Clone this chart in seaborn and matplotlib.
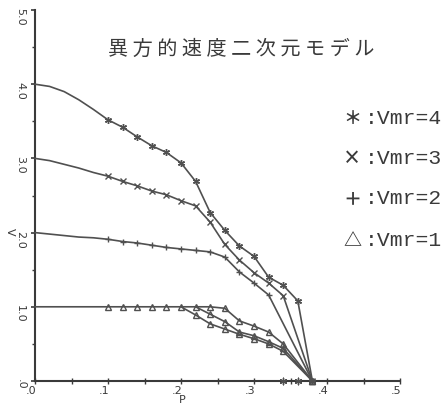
import matplotlib
matplotlib.use("Agg")
import matplotlib.pyplot as plt
import matplotlib.transforms as mtransforms
import pandas as pd
import seaborn as sns

# ---- data: V against P for each curve ----
P4 = [0.00, 0.02, 0.04, 0.06, 0.08, 0.10, 0.12, 0.14, 0.16, 0.18, 0.20,
      0.22, 0.24, 0.26, 0.28, 0.30, 0.32, 0.34, 0.36, 0.38]
V4 = [4.00, 3.97, 3.90, 3.79, 3.66, 3.52, 3.42, 3.29, 3.17, 3.08, 2.94,
      2.69, 2.27, 2.03, 1.82, 1.68, 1.40, 1.29, 1.08, 0.00]

P3 = [0.00, 0.02, 0.04, 0.06, 0.08, 0.10, 0.12, 0.14, 0.16, 0.18, 0.20,
      0.22, 0.24, 0.26, 0.28, 0.30, 0.32, 0.34, 0.38]
V3 = [3.00, 2.97, 2.92, 2.87, 2.81, 2.76, 2.69, 2.63, 2.56, 2.51, 2.43,
      2.36, 2.14, 1.84, 1.63, 1.46, 1.32, 1.15, 0.00]

P2 = [0.00, 0.02, 0.04, 0.06, 0.08, 0.10, 0.12, 0.14, 0.16, 0.18, 0.20,
      0.22, 0.24, 0.26, 0.28, 0.30, 0.32, 0.38]
V2 = [2.00, 1.98, 1.96, 1.94, 1.93, 1.91, 1.88, 1.86, 1.83, 1.80, 1.78,
      1.76, 1.74, 1.67, 1.47, 1.32, 1.16, 0.00]

P1 = [0.00, 0.02, 0.04, 0.06, 0.08, 0.10, 0.12, 0.14, 0.16, 0.18, 0.20,
      0.22, 0.24, 0.26, 0.28, 0.30, 0.32, 0.34, 0.38]
V1 = [1.00, 1.00, 1.00, 1.00, 1.00, 1.00, 1.00, 1.00, 1.00, 1.00, 1.00,
      1.00, 1.00, 0.98, 0.81, 0.74, 0.66, 0.50, 0.00]

# lower branches leaving the V = 1 line
P1b = [0.22, 0.24, 0.26, 0.28, 0.30, 0.32, 0.34, 0.38]
V1b = [1.00, 0.90, 0.80, 0.66, 0.61, 0.53, 0.44, 0.00]

P1c = [0.20, 0.22, 0.24, 0.26, 0.28, 0.30, 0.32, 0.34, 0.38]
V1c = [1.00, 0.89, 0.77, 0.70, 0.63, 0.57, 0.50, 0.40, 0.00]

# points lying on the P axis
P0 = [0.34, 0.36]
V0 = [0.00, 0.00]

x_ticks = [0.0, 0.1, 0.2, 0.3, 0.4, 0.5]
x_tick_labels = [".0", ".1", ".2", ".3", ".4", ".5"]
y_ticks = [0, 1, 2, 3, 4, 5]
y_tick_labels = [".0", "1.0", "2.0", "3.0", "4.0", "5.0"]

title = "異 方 的 速 度 二 次 元 モ デ ル"
legend_symbols = ["＊", "×", "＋", "△"]
legend_labels = [":Vmr=4", ":Vmr=3", ":Vmr=2", ":Vmr=1"]

# ---- styling ----
W, H = 446, 406
INK = "#3a3a3a"
LINE = "#505050"

sns.set_style("ticks")
plt.rcParams["font.family"] = ["DejaVu Sans"]

fig = plt.figure(figsize=(W / 100, H / 100), dpi=100)
fig.patch.set_facecolor("white")


def fx(px):
    return px / W


def fy(py):
    return 1 - py / H


ax = fig.add_axes([fx(35), fy(382), (400 - 35) / W, (382 - 11) / H])
ax.set_facecolor("white")
ax.set_xlim(0, 0.5)
ax.set_ylim(0, 5)


def draw_curve(P, V, marker, first_marked, mfc=LINE, ms=4.5):
    df = pd.DataFrame({"P": P, "V": V})
    mask = [i >= first_marked for i in range(len(P))]
    sns.lineplot(data=df, x="P", y="V", ax=ax, estimator=None, sort=False,
                 color=LINE, lw=1.2, marker=marker, markevery=mask, ms=ms,
                 mec=LINE, mfc=mfc, mew=1.0, clip_on=False, zorder=3)


ASTER = (6, 2, 0)
draw_curve(P4, V4, ASTER, 5, ms=5)
draw_curve(P3, V3, "x", 5, ms=4)
draw_curve(P2, V2, "+", 5, ms=4.5)
draw_curve(P1, V1, "^", 5, mfc="none", ms=4)
draw_curve(P1b, V1b, "^", 1, mfc="none", ms=4)
draw_curve(P1c, V1c, "^", 1, mfc="none", ms=4)
sns.scatterplot(x=P0, y=V0, ax=ax, marker=ASTER, s=22, color=LINE,
                linewidth=1.0, clip_on=False, zorder=4)

# ---- axes ----
for side in ("top", "right"):
    ax.spines[side].set_visible(False)
for side in ("left", "bottom"):
    ax.spines[side].set_color(INK)
    ax.spines[side].set_linewidth(1.5)

ax.set_xticks(x_ticks)
ax.set_xticklabels(x_tick_labels)
ax.set_xticks([0.05, 0.15, 0.25, 0.35, 0.45], minor=True)
ax.set_yticks(y_ticks)
ax.set_yticklabels(y_tick_labels)
ax.set_yticks([0.5, 1.5, 2.5, 3.5, 4.5], minor=True)

ax.tick_params(axis="x", which="both", direction="inout", length=4,
               width=1.0, color=INK, labelsize=8, labelcolor=INK, pad=1)
ax.tick_params(axis="y", which="major", direction="out", length=3,
               width=1.2, color=INK, labelsize=8, labelcolor=INK, pad=4)
ax.tick_params(axis="y", which="minor", direction="out", length=2,
               width=1.0, color=INK)

x_shift = mtransforms.ScaledTranslation(-4 / 100, 0, fig.dpi_scale_trans)
for lab in ax.get_xticklabels():
    lab.set_transform(lab.get_transform() + x_shift)
y_shift = mtransforms.ScaledTranslation(0, 3 / 100, fig.dpi_scale_trans)
for lab in ax.get_yticklabels():
    lab.set_rotation(270)
    lab.set_va("top")
    lab.set_transform(lab.get_transform() + y_shift)

ax.set_xlabel("")
ax.set_ylabel("")
fig.text(fx(182), fy(400), "P", fontsize=8, color=INK, ha="center",
         va="center")
fig.text(fx(10), fy(232), "V", fontsize=8, color=INK, ha="center",
         va="center", rotation=270)

# ---- title and legend text ----
fig.text(fx(241), fy(49), title, fontsize=14.5, color=INK, ha="center",
         va="center", family=["Noto Sans CJK JP", "DejaVu Sans"])

rows_y = [118, 158, 199, 241]
for sym, lab, y in zip(legend_symbols, legend_labels, rows_y):
    fig.text(fx(352), fy(y), sym, fontsize=13, color=INK, ha="center",
             va="center", fontweight="bold",
             family=["Noto Sans CJK JP", "DejaVu Sans"])
    fig.text(fx(365), fy(y), lab, fontsize=15.4, color=INK, ha="left",
             va="center", family=["Liberation Mono", "DejaVu Sans Mono"])

fig.savefig("out.png", dpi=100, facecolor="white")
